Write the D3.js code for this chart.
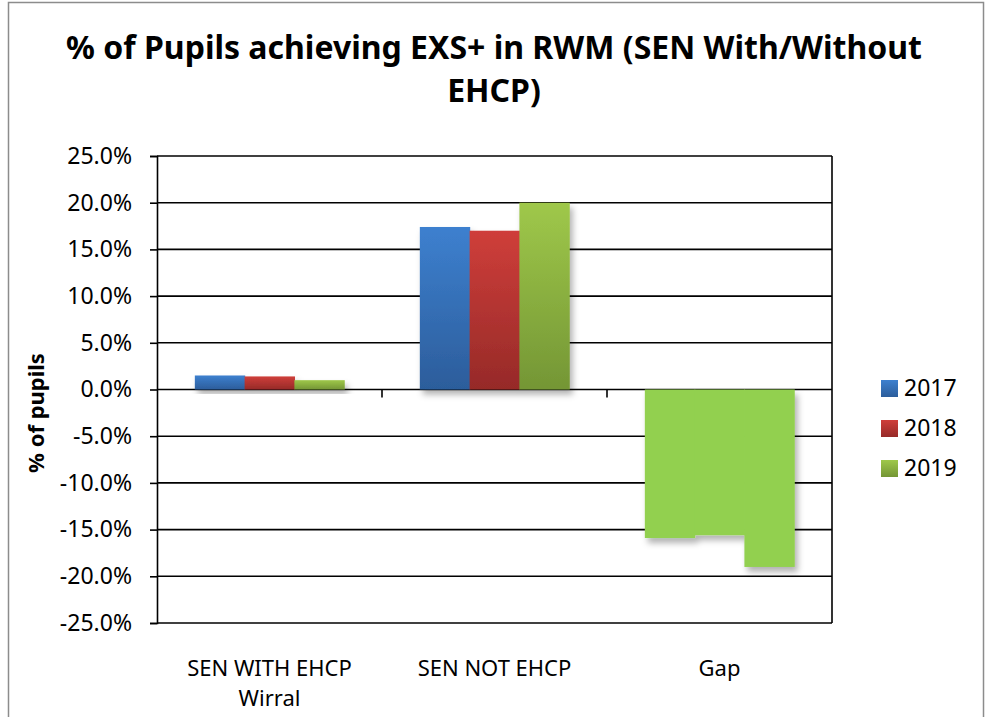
<!DOCTYPE html>
<html lang="en">
<head>
<meta charset="utf-8">
<script src="https://d3js.org/d3.v7.min.js"></script>
<style>
  body { margin: 0; background: #fff; }
  text { font-family: "Noto Sans", "Open Sans", sans-serif; fill: #000; }
</style>
</head>
<body>
<div id="chart"></div>
<script>
// data
var categories = ["SEN WITH EHCP\nWirral", "SEN NOT EHCP", "Gap"];
var years = ["2017", "2018", "2019"];
var values2017 = [1.5, 17.4, -15.9];
var values2018 = [1.4, 17.0, -15.6];
var values2019 = [1.0, 20.0, -19.0];
var yTicks = [-25, -20, -15, -10, -5, 0, 5, 10, 15, 20, 25];
var titleLines = ["% of Pupils achieving EXS+ in RWM (SEN With/Without", "EHCP)"];
var yLabel = "% of pupils";

var series = [values2017, values2018, values2019];
var colors = [
  {top: "#3d80cf", bottom: "#2c5d9b"},
  {top: "#cf3e3a", bottom: "#962a28"},
  {top: "#9fc84a", bottom: "#749635"}
];
var gapFill = "#92d050"; // Gap points are formatted flat green in the original

var width = 990, height = 717;
var plot = {left: 157, right: 832, top: 156, bottom: 623};

var svg = d3.select("#chart").append("svg")
  .attr("width", width)
  .attr("height", height);

var defs = svg.append("defs");
colors.forEach(function(c, i) {
  var g = defs.append("linearGradient")
    .attr("id", "grad" + i)
    .attr("x1", 0).attr("y1", 0).attr("x2", 0).attr("y2", 1);
  g.append("stop").attr("offset", "0%").attr("stop-color", c.top);
  g.append("stop").attr("offset", "100%").attr("stop-color", c.bottom);
});
var shadow = defs.append("filter").attr("id", "shadow")
  .attr("x", "-20%").attr("y", "-20%").attr("width", "150%").attr("height", "150%");
shadow.append("feDropShadow")
  .attr("dx", 3).attr("dy", 5).attr("stdDeviation", 3)
  .attr("flood-color", "#000").attr("flood-opacity", 0.3);

// outer border
svg.append("rect")
  .attr("x", 8.5).attr("y", 2.5)
  .attr("width", 975).attr("height", 730)
  .attr("fill", "none").attr("stroke", "#8c8c8c").attr("stroke-width", 1.5);

/* Scales */
var x0 = d3.scaleBand().domain(categories).range([plot.left, plot.right]).paddingInner(0).paddingOuter(0);
var x1 = d3.scaleBand().domain(years).range([0, x0.bandwidth()]).paddingOuter(0.76);
var y = d3.scaleLinear().domain([-25, 25]).range([plot.bottom, plot.top]);

/* Gridlines */
svg.append("g")
  .selectAll("line")
  .data(yTicks).enter()
  .append("line")
  .attr("x1", plot.left).attr("x2", plot.right)
  .attr("y1", d => y(d)).attr("y2", d => y(d))
  .attr("stroke", "#000").attr("stroke-width", 1.6);

svg.append("line")
  .attr("x1", plot.right).attr("x2", plot.right)
  .attr("y1", plot.top).attr("y2", plot.bottom)
  .attr("stroke", "#000").attr("stroke-width", 1.6);

/* Bars: one group per category, shadow on the group so touching bars show no seam */
var groups = svg.append("g").selectAll("g")
  .data(categories).enter()
  .append("g")
  .attr("filter", "url(#shadow)")
  .attr("transform", d => `translate(${x0(d)},0)`);

groups.selectAll("rect")
  .data(function(c, ci) {
    return years.map(function(yr, si) {
      return {year: yr, si: si, ci: ci, value: series[si][ci]};
    });
  }).enter()
  .append("rect")
  .attr("x", d => x1(d.year))
  .attr("width", x1.bandwidth() + 0.6)
  .attr("y", d => y(Math.max(0, d.value)))
  .attr("height", d => Math.abs(y(d.value) - y(0)))
  .attr("fill", d => d.ci === 2 ? gapFill : "url(#grad" + d.si + ")");

/* Axes */
var yAxis = d3.axisLeft(y).tickValues(yTicks).tickSize(7).tickPadding(18)
  .tickFormat(d => d.toFixed(1) + "%");
var gy = svg.append("g")
  .attr("transform", `translate(${plot.left},0)`)
  .call(yAxis);
gy.select(".domain").attr("stroke", "#000").attr("stroke-width", 1.6);
gy.selectAll(".tick line").attr("stroke", "#000").attr("stroke-width", 1.6);
gy.selectAll(".tick text").attr("font-size", 23).attr("font-family", "'Noto Sans', sans-serif");

// category ticks on the zero line
svg.append("g").selectAll("line")
  .data(categories.slice(1)).enter()
  .append("line")
  .attr("x1", d => x0(d)).attr("x2", d => x0(d))
  .attr("y1", y(0)).attr("y2", y(0) + 8)
  .attr("stroke", "#000").attr("stroke-width", 1.6);

// category labels
svg.append("g").selectAll("text")
  .data(categories).enter()
  .append("text")
  .attr("text-anchor", "middle")
  .attr("font-size", 22)
  .attr("x", d => x0(d) + x0.bandwidth() / 2)
  .attr("y", 676)
  .selectAll("tspan")
  .data(d => d.split("\n")).enter()
  .append("tspan")
  .attr("x", function() { return d3.select(this.parentNode).attr("x"); })
  .attr("dy", (d, i) => i === 0 ? 0 : 30)
  .text(d => d);

/* Title */
svg.append("g").selectAll("text")
  .data(titleLines).enter()
  .append("text")
  .attr("text-anchor", "middle")
  .attr("font-size", 32)
  .attr("font-weight", "bold")
  .attr("x", 494)
  .attr("y", (d, i) => 59 + i * 43)
  .text(d => d);

/* Y label */
svg.append("text")
  .attr("transform", "translate(44,413) rotate(-90)")
  .attr("text-anchor", "middle")
  .attr("font-size", 22)
  .attr("font-weight", "bold")
  .text(yLabel);

/* Legend */
var legend = svg.append("g").selectAll("g")
  .data(years).enter()
  .append("g")
  .attr("transform", (d, i) => `translate(881,${380 + i * 40})`);
legend.append("rect")
  .attr("width", 17).attr("height", 17)
  .attr("fill", (d, i) => "url(#grad" + i + ")");
legend.append("text")
  .attr("x", 23).attr("y", 16)
  .attr("font-size", 23)
  .text(d => d);
</script>
</body>
</html>
